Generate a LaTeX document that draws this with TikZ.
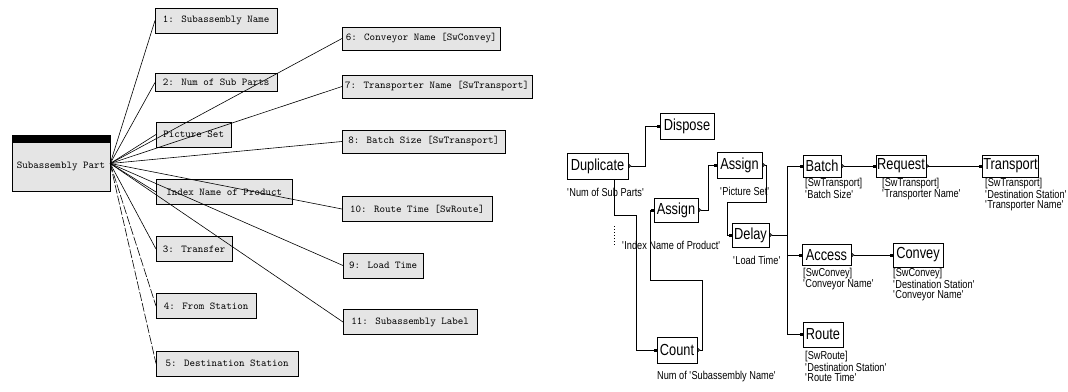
\documentclass[tikz,border=0pt]{standalone}
\usepackage{fontspec}
\usetikzlibrary{arrows.meta}
\newfontfamily\blkfont[FakeStretch=0.8]{Liberation Sans}
\newcommand{\q}[1]{\textquotesingle#1\textquotesingle}

\begin{document}
\begin{tikzpicture}[x=1pt,y=-1pt,
    attr/.style={draw, fill=black!10, anchor=west, inner sep=3pt, minimum height=25pt,
      font=\ttfamily\fontsize{10.5}{12}\selectfont},
    link/.style={line width=0.6pt},
    mod/.style={draw, line width=0.6pt, inner sep=1pt, minimum height=24pt,
      font=\blkfont\fontsize{16}{18}\selectfont},
    note/.style={anchor=west, align=left, inner sep=0pt,
      font=\blkfont\fontsize{11.5}{10.5}\selectfont},
    wire/.style={line width=0.8pt, -{Square[length=3pt,width=3pt]}},
    fromport/.style={{Triangle[open,reversed,length=3pt,width=5pt]}-{Square[length=3pt,width=3pt]}}]
  \useasboundingbox (0,0) rectangle (1068,391);

  % attribute tree
  \node[attr, anchor=center, minimum width=98pt, minimum height=49pt] (part) at (61,166.5) {Subassembly Part};
  \filldraw ([yshift=7pt]part.north west) rectangle (part.north east);
  \coordinate (hub) at ([yshift=3pt]part.east);

  \node[attr, minimum width=122pt] (a1) at (155,20.5) {1: Subassembly Name};
  \node[attr, minimum width=122pt, minimum height=18pt] (a2) at (155,82.5) {2: Num of Sub Parts};
  \node[attr, minimum width=75pt] (pic) at (156,134.5) {Picture Set};
  \node[attr, minimum width=136pt] (idx) at (156,192) {Index Name of Product};
  \node[attr, minimum width=76pt] (a3) at (156,249) {3: Transfer};
  \node[attr, minimum width=100pt] (a4) at (156,306) {4: From Station};
  \node[attr, minimum width=142pt] (a5) at (156,363.5) {5: Destination Station};
  \node[attr, minimum width=158pt, minimum height=23pt] (a6) at (342,38.5) {6: Conveyor Name [SwConvey]};
  \node[attr, minimum width=189pt, minimum height=23pt] (a7) at (342,86.5) {7: Transporter Name [SwTransport]};
  \node[attr, minimum width=163pt, minimum height=23pt] (a8) at (342,141.5) {8: Batch Size [SwTransport]};
  \node[attr, minimum width=150pt] (a10) at (342,209) {10: Route Time [SwRoute]};
  \node[attr, minimum width=80pt] (a9) at (343,265.5) {9: Load Time};
  \node[attr, minimum width=134pt] (a11) at (343,322) {11: Subassembly Label};

  \draw[link] (hub) -- (a1.west);
  \draw[link] (hub) -- (a2.west);
  \draw[link] (hub) -- (pic.west);
  \draw[link] (hub) -- (idx.west);
  \draw[link] (hub) -- (a3.west);
  \draw[link, dash pattern=on 9pt off 2pt] (hub) -- (a4.west);
  \draw[link, dash pattern=on 9pt off 2pt] (hub) -- (a5.west);
  \draw[link] (hub) -- (a6.west);
  \draw[link] (hub) -- (a7.west);
  \draw[link] (hub) -- (a8.west);
  \draw[link] (hub) -- (a10.west);
  \draw[link] (hub) -- (a9.west);
  \draw[link] (hub) -- (a11.west);

  % module flow
  \node[mod, minimum width=61pt, minimum height=26pt] (dup) at (597.5,166) {Duplicate};
  \node[mod, minimum width=54pt, minimum height=26pt] (disp) at (687,126) {Dispose};
  \node[mod, minimum width=44pt] (asg1) at (676,210) {Assign};
  \node[mod, minimum width=45pt, minimum height=26pt] (asg2) at (739.5,165) {Assign};
  \node[mod, minimum width=37pt] (dly) at (750.5,235) {Delay};
  \node[mod, minimum width=40pt, minimum height=26pt] (cnt) at (677,350) {Count};
  \node[mod, minimum width=38pt, minimum height=22pt] (bat) at (822,166) {Batch};
  \node[mod, minimum width=42pt, minimum height=22pt] (req) at (901,166) {Request};
  \node[mod, minimum width=55pt, minimum height=22pt] (trn) at (1010.5,166) {Transport};
  \node[mod, minimum width=49pt, minimum height=21pt] (acc) at (826.5,255) {Access};
  \node[mod, minimum width=50pt] (cnv) at (918,255) {Convey};
  \node[mod, minimum width=40pt, minimum height=25pt] (rte) at (823,334.5) {Route};

  \node[note] (dupl) at (567,192) {\q{Num of Sub Parts}};
  \node[note] (asg2l) at (720,191) {\q{Picture Set}};
  \node[note] (asg1l) at (622,245) {\q{Index Name of Product}};
  \node[note] (dlyl) at (733,260) {\q{Load Time}};
  \node[note] (cntl) at (657,377) {Num of \q{Subassembly Name}};
  \node[note, anchor=north west] (batl) at (805,178) {[SwTransport]\\\q{Batch Size}};
  \node[note, anchor=north west] (reql) at (882,178) {[SwTransport]\\\q{Transporter Name}};
  \node[note, anchor=north west] (trnl) at (985,178) {[SwTransport]\\\q{Destination Station}\\\q{Transporter Name}};
  \node[note, anchor=north west] (accl) at (803,268) {[SwConvey]\\\q{Conveyor Name}};
  \node[note, anchor=north west] (cnvl) at (893,268) {[SwConvey]\\\q{Destination Station}\\\q{Conveyor Name}};
  \node[note, anchor=north west] (rtel) at (805,351) {[SwRoute]\\\q{Destination Station}\\\q{Route Time}};

  \coordinate (fork) at ([xshift=18pt]dly.east);
  \draw[wire, fromport] (dup.east) -- ++(17,0) |- (disp.west);
  \draw[wire] ([xshift=17pt]dup.south) -- ++(0,36) -| ([xshift=-20pt]cnt.west) -- (cnt.west);
  \draw[dotted, line width=1pt] ([xshift=16.5pt,yshift=-47pt]dup.south) -- ++(0,20);
  \draw[wire, fromport] (cnt.east) -- ++(5,0) -- ++(0,-70) -| ([xshift=-3pt]asg1.west) -- (asg1.west);
  \draw[wire, fromport] (asg1.east) -- ++(10,0) |- (asg2.west);
  \draw[wire, fromport] (asg2.east) -- ++(4,0) -- ++(0,37) -| ([xshift=-4pt]dly.west) -- (dly.west);
  \draw[wire, fromport] (dly.east) -- (fork) |- (acc.west);
  \draw[wire] (fork) |- (bat.west);
  \draw[wire] (fork) |- (rte.west);
  \draw[wire, fromport] (bat.east) -- (req.west);
  \draw[wire, fromport] (req.east) -- (trn.west);
  \draw[wire, fromport] (acc.east) -- (cnv.west);
\end{tikzpicture}
\end{document}
